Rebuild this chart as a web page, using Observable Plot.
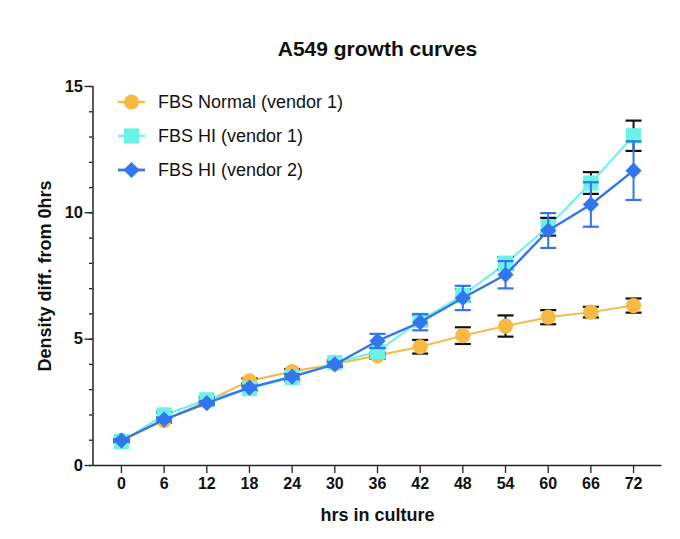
<!DOCTYPE html>
<html>
<head>
<meta charset="utf-8">
<script src="https://cdn.jsdelivr.net/npm/d3@7"></script>
<script src="https://cdn.jsdelivr.net/npm/@observablehq/plot@0.6"></script>
<style>
  html, body { margin: 0; padding: 0; background: #fff; }
  #wrap { position: relative; width: 680px; height: 539px; }
  #legend { position: absolute; left: 0; top: 0; }
</style>
</head>
<body>
<div id="wrap"></div>
<script>
// ---- data ----
const hours = [0, 6, 12, 18, 24, 30, 36, 42, 48, 54, 60, 66, 72];
const seriesNames = ["FBS Normal (vendor 1)", "FBS HI (vendor 1)", "FBS HI (vendor 2)"];
const normalMean = [1.0, 1.78, 2.55, 3.35, 3.72, 4.02, 4.35, 4.7, 5.14, 5.52, 5.87, 6.07, 6.33];
const normalErr  = [0.05, 0.08, 0.1, 0.1, 0.1, 0.1, 0.12, 0.27, 0.33, 0.42, 0.28, 0.21, 0.28];
const hi1Mean = [0.95, 2.0, 2.6, 3.05, 3.48, 4.07, 4.5, 5.75, 6.73, 8.0, 9.45, 11.18, 13.05];
const hi1Err  = [0.05, 0.1, 0.1, 0.1, 0.12, 0.1, 0.15, 0.2, 0.25, 0.25, 0.35, 0.43, 0.6];
const hi2Mean = [0.99, 1.82, 2.47, 3.08, 3.52, 4.0, 4.93, 5.67, 6.63, 7.55, 9.3, 10.33, 11.67];
const hi2Err  = [0.05, 0.08, 0.08, 0.08, 0.1, 0.1, 0.28, 0.32, 0.48, 0.54, 0.69, 0.88, 1.16];
const yTicks = [0, 5, 10, 15];
const yMinorTicks = d3.range(0, 16);
const xDomain = [-4, 76];
const yDomain = [0, 15];

const FONT = "'Liberation Sans', Arial, Helvetica, sans-serif";
const styles = [
  {color: "#F6BA43", err: "#111111", symbol: "circle", r: 7.6, width: 2},
  {color: "#6AF2E6", err: "#111111", symbol: "square", r: 8.6, width: 2},
  {color: "#3474EC", err: "#3474EC", symbol: "diamond2", r: 7.3, width: 2.4}
];
const means = [normalMean, hi1Mean, hi2Mean];
const errs = [normalErr, hi1Err, hi2Err];
const series = seriesNames.map((name, i) => ({
  name, ...styles[i],
  rows: hours.map((h, j) => ({x: h, y: means[i][j], e: errs[i][j]}))
}));

const capSymbol = {
  draw(context, size) {
    const w = Math.sqrt(size / Math.PI);
    context.moveTo(-w, 0);
    context.lineTo(w, 0);
  }
};

const seriesMarks = series.flatMap(s => [
  Plot.line(s.rows, {x: "x", y: "y", stroke: s.color, strokeWidth: s.width}),
  Plot.ruleX(s.rows, {x: "x", y1: d => d.y - d.e, y2: d => d.y + d.e, stroke: s.err, strokeWidth: 2}),
  Plot.dot(s.rows, {x: "x", y: d => d.y + d.e, symbol: capSymbol, r: 8, stroke: s.err, strokeWidth: 2.2, fill: "none"}),
  Plot.dot(s.rows, {x: "x", y: d => d.y - d.e, symbol: capSymbol, r: 8, stroke: s.err, strokeWidth: 2.2, fill: "none"}),
  Plot.dot(s.rows, {x: "x", y: "y", symbol: s.symbol, r: s.r, fill: s.color, stroke: "none"})
]);

const axisColor = "#222";
const chart = Plot.plot({
  width: 680,
  height: 539,
  marginLeft: 92.5,
  marginRight: 18.5,
  marginTop: 86,
  marginBottom: 74,
  x: {domain: xDomain, axis: null},
  y: {domain: yDomain, axis: null},
  style: {fontFamily: FONT, background: "#fff", color: axisColor},
  marks: [
    Plot.axisY(yMinorTicks, {tickSize: 3.5, fill: "none", stroke: axisColor, strokeWidth: 1.3}),
    Plot.axisY(yTicks, {tickSize: 8, tickPadding: 2, fontSize: 16.5, fontWeight: "bold", fill: "#111", stroke: axisColor, strokeWidth: 1.3, label: null, tickFormat: d3.format("d")}),
    Plot.axisX(hours, {tickSize: 8, tickPadding: 4, fontSize: 16, fontWeight: "bold", fill: "#111", stroke: axisColor, strokeWidth: 1.3, label: null, tickFormat: d3.format("d")}),
    Plot.ruleX([xDomain[0]], {stroke: axisColor, strokeWidth: 1.5}),
    Plot.ruleY([yDomain[0]], {stroke: axisColor, strokeWidth: 1.5}),
    ...seriesMarks,
    Plot.text(["A549 growth curves"], {frameAnchor: "top", dy: -37, fontSize: 21, fontWeight: "bold", fill: "#111", textAnchor: "middle", lineAnchor: "middle"}),
    Plot.text(["hrs in culture"], {frameAnchor: "bottom", dy: 50, fontSize: 18, fontWeight: "bold", fill: "#111", textAnchor: "middle", lineAnchor: "middle"}),
    Plot.text(["Density diff. from 0hrs"], {frameAnchor: "left", dx: -48, rotate: -90, fontSize: 18, fontWeight: "bold", fill: "#111", textAnchor: "middle", lineAnchor: "middle"})
  ]
});
document.getElementById("wrap").appendChild(chart);

// ---- legend (overlay, top-left inside the plot area) ----
const legend = d3.select("#wrap").append("svg")
  .attr("id", "legend").attr("width", 360).attr("height", 200)
  .style("font-family", FONT);
const rowY = [102, 136, 170];
series.forEach((s, i) => {
  const g = legend.append("g").attr("transform", `translate(0,${rowY[i]})`);
  g.append("line").attr("x1", 118).attr("x2", 145).attr("stroke", s.color).attr("stroke-width", s.width + 0.4);
  const symType = {circle: d3.symbolCircle, square: d3.symbolSquare, diamond2: d3.symbolDiamond2}[s.symbol];
  g.append("path").attr("transform", "translate(131.5,0)")
    .attr("d", d3.symbol(symType, Math.PI * s.r * s.r)()).attr("fill", s.color);
  g.append("text").attr("x", 158).attr("y", 0).attr("dy", "0.35em")
    .attr("font-size", 18).attr("fill", "#111").text(s.name);
});
</script>
</body>
</html>
